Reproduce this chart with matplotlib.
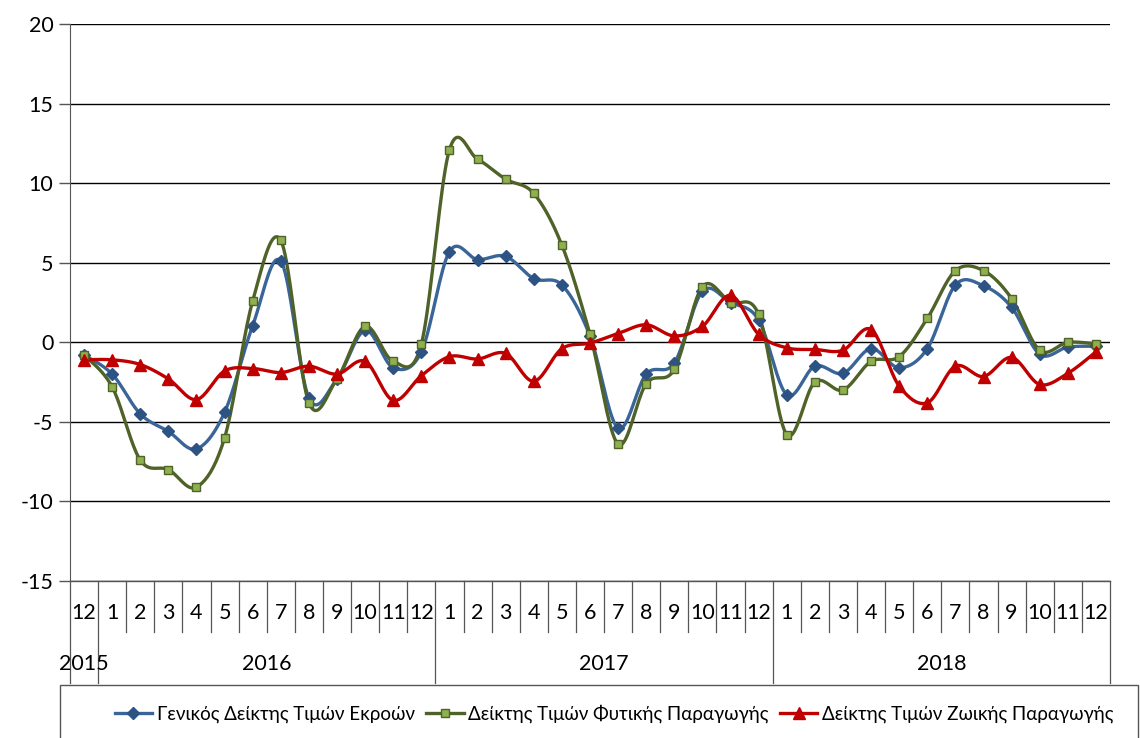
import matplotlib
matplotlib.use("Agg")
import matplotlib.pyplot as plt
import numpy as np
from matplotlib.lines import Line2D
from matplotlib.patches import Rectangle

plt.rcParams['font.family'] = ['Lato', 'DejaVu Sans']
plt.rcParams['axes.unicode_minus'] = False

months = ["12"] + [str(m) for m in range(1, 13)] * 3
years = ["2015", "2016", "2017", "2018"]

general = [-0.8, -2.0, -4.5, -5.6, -6.7, -4.4, 1.05, 5.1, -3.5, -2.3, 0.75, -1.6, -0.6,
           5.7, 5.2, 5.4, 4.0, 3.6, 0.4, -5.4, -2.0, -1.3, 3.2, 2.5, 1.4,
           -3.3, -1.5, -1.95, -0.4, -1.6, -0.4, 3.6, 3.55, 2.2, -0.75, -0.3, -0.25]
crop = [-0.8, -2.8, -7.4, -8.0, -9.1, -6.0, 2.6, 6.4, -3.8, -2.3, 1.0, -1.2, -0.1,
        12.1, 11.5, 10.25, 9.35, 6.1, 0.5, -6.4, -2.6, -1.7, 3.5, 2.5, 1.75,
        -5.8, -2.5, -3.0, -1.2, -0.9, 1.5, 4.5, 4.5, 2.75, -0.5, 0.0, -0.1]
animal = [-1.1, -1.1, -1.4, -2.3, -3.6, -1.8, -1.65, -1.9, -1.5, -2.0, -1.2, -3.65, -2.1,
          -0.9, -1.05, -0.7, -2.45, -0.4, -0.05, 0.55, 1.1, 0.4, 1.0, 2.95, 0.5,
          -0.35, -0.45, -0.5, 0.8, -2.75, -3.8, -1.5, -2.15, -0.95, -2.65, -1.95, -0.6]

labels = ["Γενικός Δείκτης Τιμών Εκροών", "Δείκτης Τιμών Φυτικής Παραγωγής",
          "Δείκτης Τιμών Ζωικής Παραγωγής"]


def smooth(y, n=20):
    y = np.asarray(y, float)
    x = np.arange(len(y), dtype=float)
    xs, ys = [], []
    for i in range(len(y) - 1):
        p0 = np.array([x[max(i - 1, 0)], y[max(i - 1, 0)]])
        p1 = np.array([x[i], y[i]])
        p2 = np.array([x[i + 1], y[i + 1]])
        p3 = np.array([x[min(i + 2, len(y) - 1)], y[min(i + 2, len(y) - 1)]])
        c1 = p1 + (p2 - p0) / 6.0
        c2 = p2 - (p3 - p1) / 6.0
        t = np.linspace(0, 1, n, endpoint=(i == len(y) - 2))[:, None]
        pts = ((1 - t) ** 3) * p1 + 3 * ((1 - t) ** 2) * t * c1 + 3 * (1 - t) * t ** 2 * c2 + t ** 3 * p2
        xs.append(pts[:, 0]); ys.append(pts[:, 1])
    return np.concatenate(xs), np.concatenate(ys)


W, H = 1140, 738
fig = plt.figure(figsize=(W / 100, H / 100), dpi=100)
L, R, T, B = 70, 1110, 24, 581
ax = fig.add_axes([L / W, 1 - B / H, (R - L) / W, (B - T) / H])

ax.set_ylim(-15, 20)
ax.set_xlim(-0.5, 36.5)
ax.set_yticks(range(-15, 21, 5))
for v in range(-15, 21, 5):
    ax.axhline(v, color='black', lw=1.0, zorder=1)
ax.tick_params(axis='y', length=8, width=1, color='#555555', labelsize=15.5, pad=4)
ax.tick_params(axis='x', bottom=False, labelbottom=False)
for s in ['top', 'right', 'bottom']:
    ax.spines[s].set_visible(False)
ax.spines['left'].set_color('#555555')

x = np.arange(len(general))
series = [
    (general, '#3A6599', 'D', '#2D5284', '#2D5284', 6),
    (crop, '#4F6228', 's', '#8FB04E', '#4F6228', 5.5),
    (animal, '#C00000', '^', '#C00000', '#C00000', 8),
]
handles = []
for (vals, col, mk, mfc, mec, ms), lab in zip(series, labels):
    sx, sy = smooth(vals)
    ax.plot(sx, sy, color=col, lw=2.4, zorder=3, solid_capstyle='round')
    ax.plot(x, vals, ls='none', marker=mk, ms=ms, mfc=mfc, mec=mec, mew=1, zorder=4)
    handles.append(Line2D([0], [0], color=col, lw=2.4, marker=mk, ms=ms, mfc=mfc, mec=mec))

# category axis
trans = ax.get_xaxis_transform()
yb_month = -(632 - B) / (B - T)
yb_year = -(683 - B) / (B - T)
ax.plot([-0.5, 36.5], [0, 0], transform=trans, color='#555555', lw=1, clip_on=False, zorder=2)
for i in range(38):
    xp = i - 0.5
    long = xp in (-0.5, 0.5, 12.5, 24.5, 36.5)
    ax.plot([xp, xp], [0, yb_year if long else yb_month], transform=trans,
            color='#555555', lw=0.9, clip_on=False)
for i, m in enumerate(months):
    ax.text(i, -(613 - B) / (B - T), m, transform=trans, ha='center', va='center', fontsize=15.5)
year_pos = [0, 6.5, 18.5, 30.5]
for yp, yl in zip(year_pos, years):
    ax.text(yp, -(664 - B) / (B - T), yl, transform=trans, ha='center', va='center', fontsize=15.5)

# legend
fig.patches.append(Rectangle((60 / W, -0.01), 1078 / W, (H - 685) / H + 0.01, transform=fig.transFigure,
                             fill=False, edgecolor='#555555', lw=1))
fig.legend(handles, labels, loc='center', bbox_to_anchor=(614 / W, 1 - 714 / H), ncol=3,
           frameon=False, fontsize=13.5, handlelength=2.0, handletextpad=0.25, columnspacing=0.6)

fig.savefig('out.png', dpi=100)
